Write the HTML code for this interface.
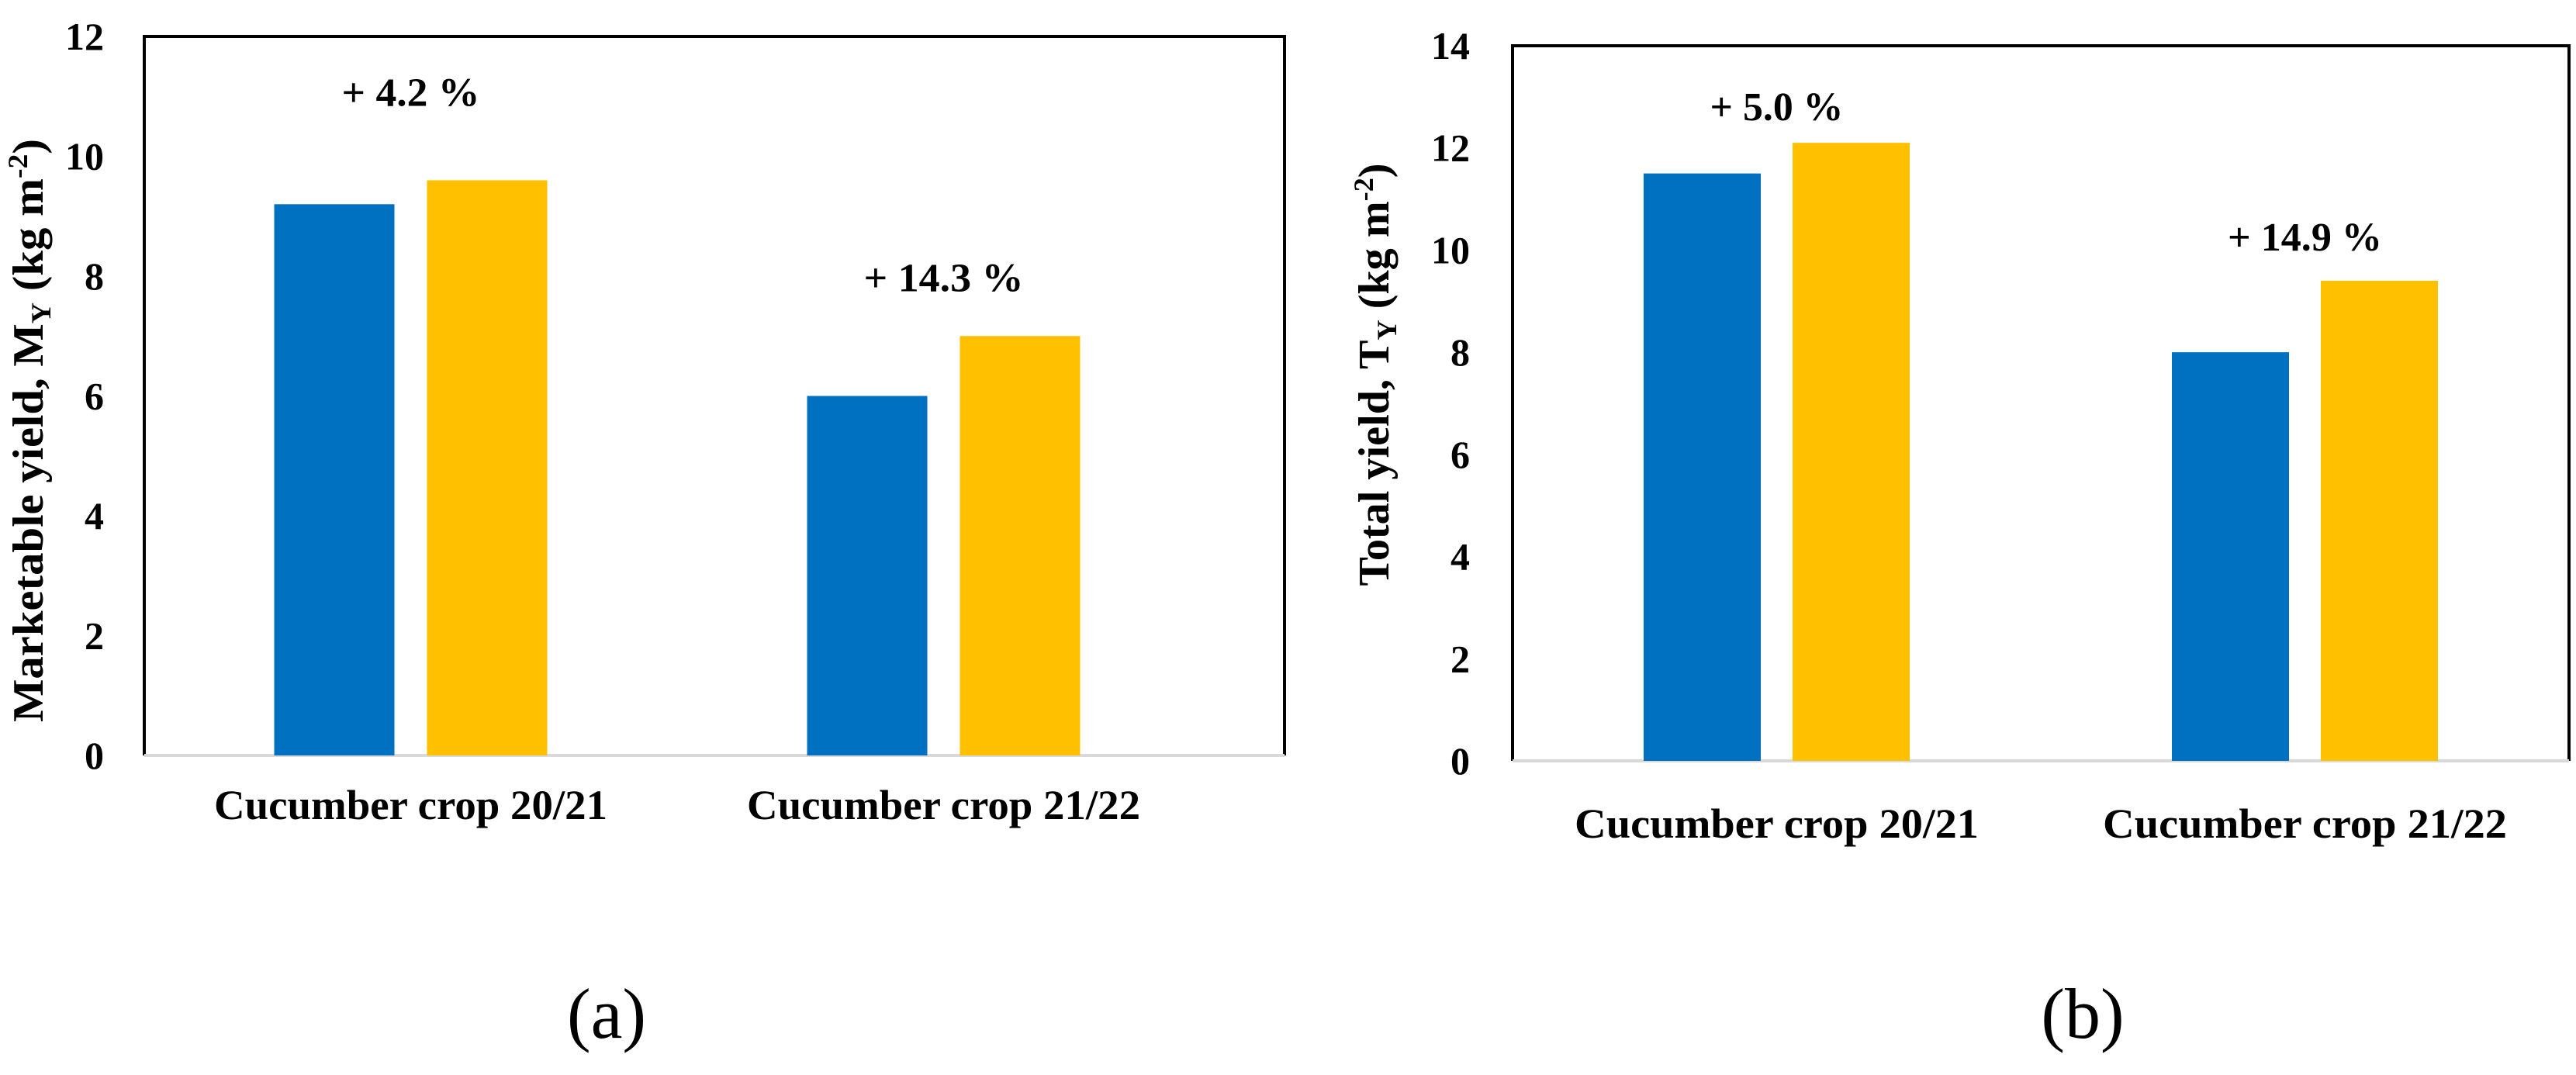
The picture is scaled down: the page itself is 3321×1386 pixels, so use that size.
<!DOCTYPE html>
<html><head><meta charset="utf-8"><style>
html,body{margin:0;padding:0;background:#fff;}
svg{display:block;}
text{font-family:"Liberation Serif",serif;font-weight:bold;fill:#000;}
text.panel{font-weight:normal;}
</style></head><body>
<svg id="svg" width="3321" height="1386" viewBox="0 0 3321 1386" xmlns="http://www.w3.org/2000/svg"></svg>
<script>
// Chart (a) data
const categoriesA = ["Cucumber crop 20/21", "Cucumber crop 21/22"];
const seriesA1 = [9.2, 6.0];
const seriesA2 = [9.6, 7.0];
const annotA = ["+ 4.2 %", "+ 14.3 %"];
const ticksA = [0, 2, 4, 6, 8, 10, 12];
// Chart (b) data
const categoriesB = ["Cucumber crop 20/21", "Cucumber crop 21/22"];
const seriesB1 = [11.5, 8.0];
const seriesB2 = [12.1, 9.4];
const annotB = ["+ 5.0 %", "+ 14.9 %"];
const ticksB = [0, 2, 4, 6, 8, 10, 12, 14];

const NS = "http://www.w3.org/2000/svg";
const svg = document.getElementById('svg');
function mk(tag, attrs, parent) {
  const e = document.createElementNS(NS, tag);
  for (const k in attrs) e.setAttribute(k, attrs[k]);
  (parent || svg).appendChild(e);
  return e;
}

function drawChart(cfg) {
  const g = mk('g', {});
  
  
  const y = v => cfg.y0 - (v / cfg.max) * (cfg.y0 - cfg.top);
  const n = cfg.cats.length;
  const slot = (cfg.bandRight - cfg.left) / n;
  const xc = i => cfg.left + slot * (i + 0.5);
  const fr = mk('path', {d:`M${cfg.left},${cfg.y0} L${cfg.left},${cfg.top} L${cfg.right},${cfg.top} L${cfg.right},${cfg.y0}`, fill:'none', stroke:'#000', 'stroke-width':4}, g);
  
  
  const xa = mk('line', {x1:cfg.left, x2:cfg.right, y1:cfg.y0, y2:cfg.y0, stroke:'#d9d9d9', 'stroke-width':4}, g);
  
  
  cfg.ticks.forEach(t => {
    const tx = mk('text', {x:cfg.tickX, y:y(t)+17, 'text-anchor':'end', 'font-size':50}, g);
    tx.textContent = t;
    
    
  });
  cfg.cats.forEach((c, i) => {
    const v1 = cfg.s1[i], v2 = cfg.s2[i];
    const b1 = mk('rect', {x:xc(i) - cfg.gap/2 - cfg.bw, y:y(v1), width:cfg.bw, height:cfg.y0 - y(v1), fill:'#0070c0'}, g);
    
    
    const b2 = mk('rect', {x:xc(i) + cfg.gap/2, y:y(v2), width:cfg.bw, height:cfg.y0 - y(v2), fill:'#ffc000'}, g);
    
    
    const lab = mk('text', {x:xc(i), y:cfg.catY, 'text-anchor':'middle', 'font-size':54, textLength:cfg.catW, lengthAdjust:'spacingAndGlyphs'}, g);
    lab.textContent = c;
    
    
    const an = mk('text', {x:xc(i), y:y(Math.max(v1, v2)) - cfg.annOff[i], 'text-anchor':'middle', 'font-size':52, textLength:cfg.annW[i], lengthAdjust:'spacingAndGlyphs'}, g);
    an.textContent = cfg.ann[i];
    
    
  });
  const tt = mk('text', {transform:`translate(${cfg.titleX},${cfg.titleY}) rotate(-90)`, 'text-anchor':'middle', 'font-size':56, textLength:cfg.titleW, lengthAdjust:'spacingAndGlyphs'}, g);
  tt.innerHTML = cfg.title;
  
  
  const pl = mk('text', {x:cfg.panelX, y:1338, 'text-anchor':'middle', 'font-size':92, 'class':'panel'}, g);
  pl.textContent = cfg.panel;
  
  
}

drawChart({name:'chart-a-marketable-yield', left:186, right:1656, bandRight:1560, top:47, y0:974, max:12,
  ticks:ticksA, cats:categoriesA, s1:seriesA1, s2:seriesA2, ann:annotA, annW:[178,206], annOff:[96,58],
  bw:155, gap:42, tickX:134, catY:1056, catW:507,
  title:'Marketable yield, M<tspan font-size="36" dy="10">Y</tspan><tspan dy="-10"> (kg m</tspan><tspan font-size="36" dy="-20">-2</tspan><tspan dy="20">)</tspan>',
  titleX:55, titleY:555, titleW:752, panel:'(a)', panelX:782});
drawChart({name:'chart-b-total-yield', left:1950, right:3312, bandRight:3312, top:59, y0:981, max:14,
  ticks:ticksB, cats:categoriesB, s1:seriesB1, s2:seriesB2, ann:annotB, annW:[172,199], annOff:[29,39],
  bw:151, gap:41, tickX:1895, catY:1080, catW:521,
  title:'Total  yield, T<tspan font-size="36" dy="10">Y</tspan><tspan dy="-10"> (kg m</tspan><tspan font-size="36" dy="-20">-2</tspan><tspan dy="20">)</tspan>',
  titleX:1790, titleY:483, titleW:545, panel:'(b)', panelX:2685});
</script>
</body></html>
